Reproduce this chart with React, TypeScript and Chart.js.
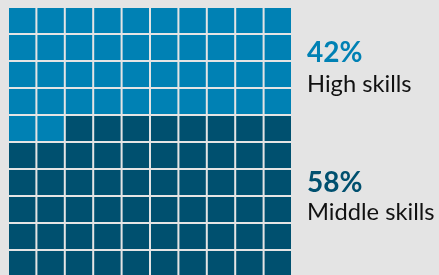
import React, { useEffect, useRef } from "react";
import { Chart, registerables } from "chart.js";

Chart.register(...registerables);

const columns = ["1", "2", "3", "4", "5", "6", "7", "8", "9", "10"];
const rows = ["r1", "r2", "r3", "r4", "r5", "r6", "r7", "r8", "r9", "r10"];
const shareLabels = ["42%", "58%"];
const groupNames = ["High skills", "Middle skills"];
const shares = [42, 58];
const groupColors = ["#0081b4", "#00506f"];
const BG = "#e4e4e4";

export default function App() {
  const ref = useRef<HTMLCanvasElement | null>(null);

  useEffect(() => {
    if (!ref.current) return;
    const datasets = rows.map((r, ri) => ({
      label: r,
      data: columns.map(() => 1),
      backgroundColor: columns.map((_, ci) =>
        ri * columns.length + ci < shares[0] ? groupColors[0] : groupColors[1]
      ),
      borderColor: BG,
      borderWidth: 1,
      borderSkipped: false as const,
      inflateAmount: 0,
      barPercentage: 1,
      categoryPercentage: 1,
    }));

    const textPlugin = {
      id: "sideText",
      afterDraw(chart: any) {
        const ctx = chart.ctx;
        ctx.save();
        ctx.textAlign = "left";
        ctx.textBaseline = "alphabetic";
        const x = 307;
        ctx.fillStyle = groupColors[0];
        ctx.font = "bold 28px Lato";
        ctx.fillText(shareLabels[0], x, 62);
        ctx.fillStyle = "#111111";
        ctx.font = "23.7px Lato";
        ctx.fillText(groupNames[0], x, 92);
        ctx.fillStyle = groupColors[1];
        ctx.font = "bold 28px Lato";
        ctx.fillText(shareLabels[1], x, 192);
        ctx.fillStyle = "#111111";
        ctx.font = "23.7px Lato";
        ctx.fillText(groupNames[1], x, 220);
        ctx.restore();
      },
    };

    const chart = new Chart(ref.current, {
      type: "bar",
      data: { labels: columns, datasets },
      options: {
        animation: false,
        responsive: false,
        maintainAspectRatio: false,
        layout: { padding: { left: 8, right: 147, top: 0, bottom: 0 } },
        plugins: { legend: { display: false }, tooltip: { enabled: false } },
        scales: {
          x: { display: false, stacked: true, grid: { display: false } },
          y: {
            display: false,
            stacked: true,
            reverse: true,
            min: -0.259,
            max: 9.926,
          },
        },
      },
      plugins: [textPlugin],
    });
    return () => chart.destroy();
  }, []);

  return (
    <div
      style={{
        position: "fixed",
        left: 0,
        top: 0,
        width: 439,
        height: 275,
        background: BG,
        overflow: "hidden",
      }}
    >
      <canvas ref={ref} width={439} height={275} style={{ width: 439, height: 275, display: "block" }} />
    </div>
  );
}
